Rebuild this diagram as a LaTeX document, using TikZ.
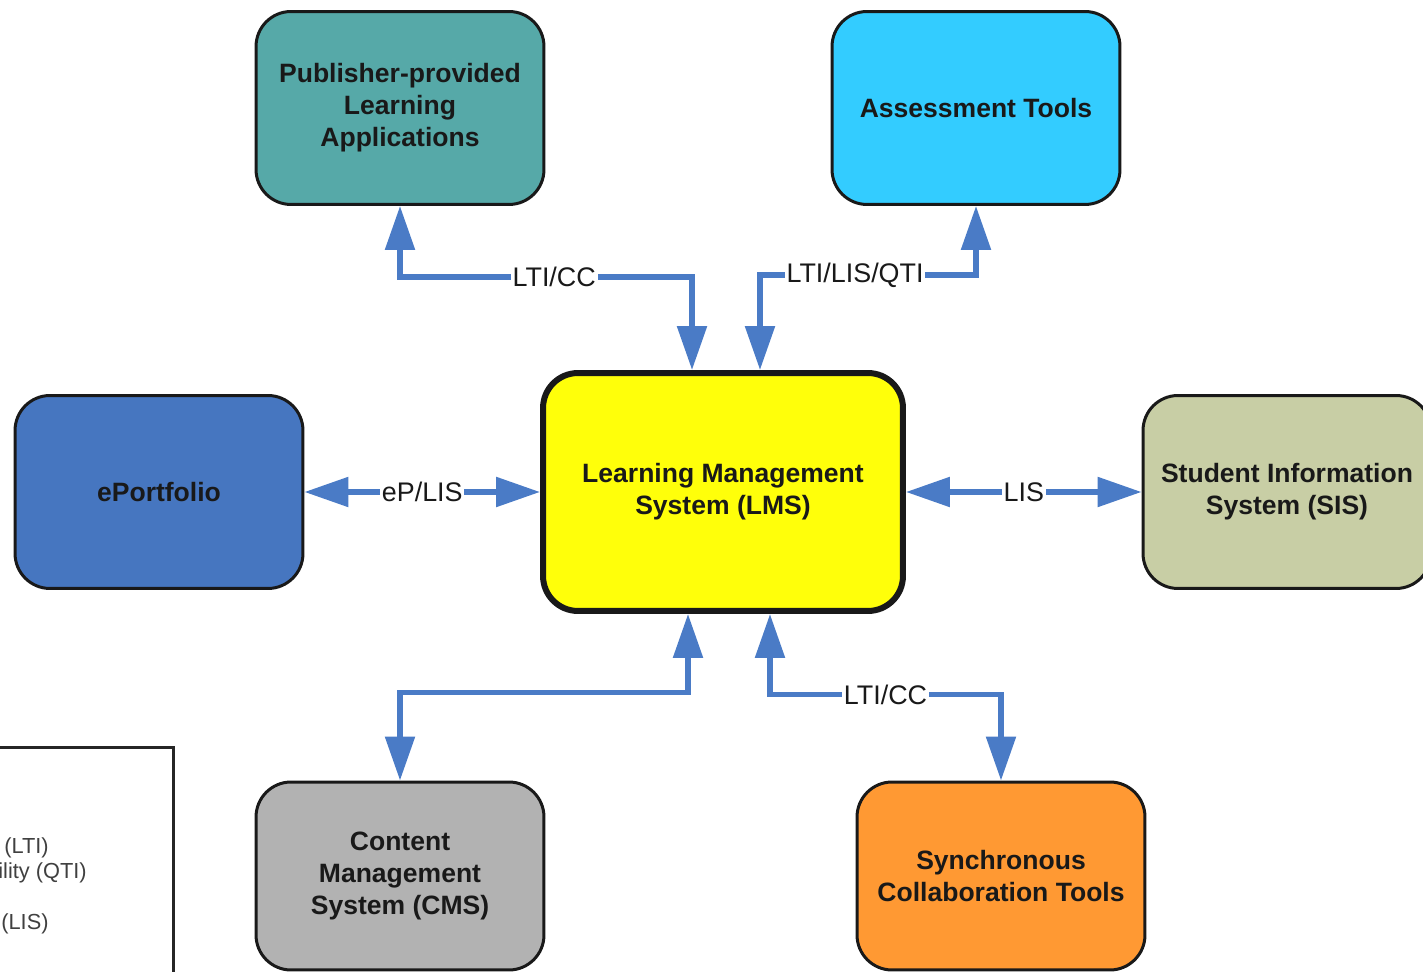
\documentclass[tikz,border=0pt]{standalone}
\usepackage{fontspec}
\setmainfont{Liberation Sans}
\usetikzlibrary{arrows.meta,calc}
\definecolor{tealbox}{HTML}{56A9A8}
\definecolor{cyanbox}{HTML}{33CCFF}
\definecolor{bluebox}{HTML}{4676C0}
\definecolor{yellowbox}{HTML}{FFFF0A}
\definecolor{sagebox}{HTML}{C8CEA5}
\definecolor{greybox}{HTML}{B2B2B2}
\definecolor{orangebox}{HTML}{FF9933}
\definecolor{linkblue}{HTML}{4A7BC6}
\tikzset{
	box/.style={draw=black!90, line width=0.06cm, rounded corners=0.7cm, minimum width=5.76cm, minimum height=3.86cm, align=center, font=\fontsize{15.1}{18.2}\selectfont\bfseries, text=black!90},
	lmsbox/.style={box, line width=0.12cm, minimum width=7.2cm, minimum height=4.76cm},
	link/.style={draw=linkblue, line width=0.11cm, {Triangle[length=0.88cm,width=0.58cm]}-{Triangle[length=0.88cm,width=0.58cm]}},
	lbl/.style={fill=white, inner sep=1pt, font=\fontsize{15.3}{17}\selectfont, text=black!90},
	legendtext/.style={anchor=west, inner sep=0pt, font=\fontsize{12.4}{14}\selectfont, text=black!75}
}

\begin{document}
\begin{tikzpicture}[x=0.02cm, y=-0.02cm]
		%%%%% START %%%%%
		
		\useasboundingbox (0, 0) rectangle (1423, 972);
		
		\node[box, fill=tealbox] (pub) at (400, 108) {Publisher-provided\\Learning\\Applications};
		\node[box, fill=cyanbox] (asm) at (976, 108) {Assessment Tools};
		
		\node[box, fill=bluebox] (epf) at (159, 492) {ePortfolio};
		\node[lmsbox, fill=yellowbox] (lms) at (723, 492) {Learning Management\\System (LMS)};
		\node[box, fill=sagebox] (sis) at (1287, 492) {Student Information\\System (SIS)};
		
		\node[box, fill=greybox, minimum height=3.76cm] (cms) at (400, 876) {Content\\Management\\System (CMS)};
		\node[box, fill=orangebox, minimum height=3.76cm] (syn) at (1001, 876) {Synchronous\\Collaboration Tools};
		
		\draw[link] (pub.south) -- ++(0, 71) -| node[lbl, pos=0.264] {LTI/CC} ([xshift=-0.62cm]lms.north);
		\draw[link] (asm.south) -- ++(0, 69) -| node[lbl, pos=0.28] {LTI/LIS/QTI} ([xshift=0.74cm]lms.north);
		
		\draw[link] (epf.east) -- node[lbl] {eP/LIS} (lms.west);
		\draw[link] (sis.west) -- node[lbl] {LIS} (lms.east);
		
		\draw[link] (cms.north) -- ++(0, -88) -| ([xshift=-0.7cm]lms.south);
		\draw[link] (syn.north) -- ++(0, -86) -| node[lbl, pos=0.25] {LTI/CC} ([xshift=0.94cm]lms.south);
		
		\draw[line width=0.06cm, draw=black!85] (-20, 747) rectangle (173, 1000);
		\node[legendtext] (ltitxt) at (4, 848) {(LTI)};
		\node[legendtext] (qtitxt) at (-2, 873) {ility (QTI)};
		\node[legendtext] (listxt) at (1, 924) {(LIS)};
		
		%%%%% END %%%%%
	\end{tikzpicture}
\end{document}
